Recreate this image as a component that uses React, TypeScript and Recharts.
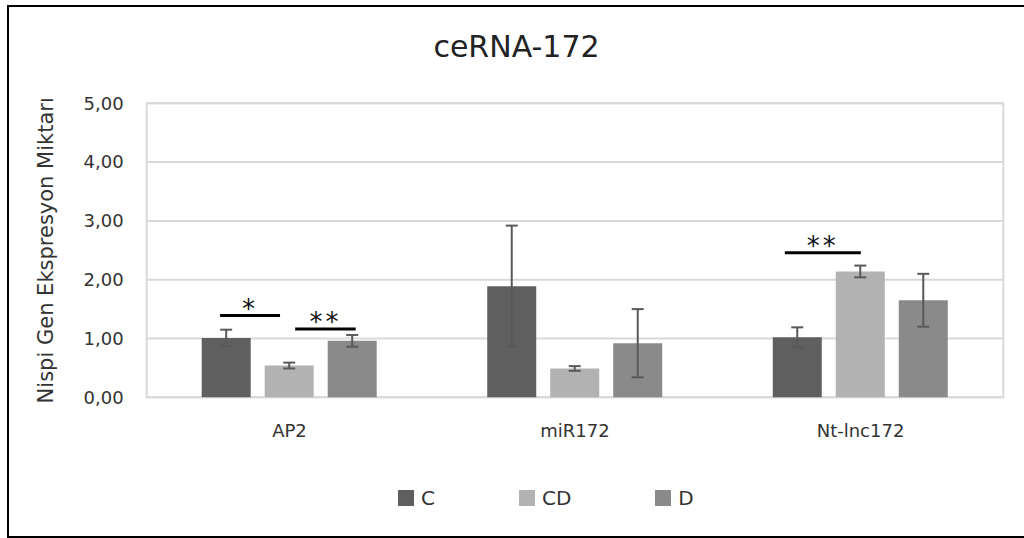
import React from 'react';
import {
  BarChart,
  Bar,
  XAxis,
  YAxis,
  CartesianGrid,
  ErrorBar,
  ReferenceLine,
  ReferenceArea,
} from 'recharts';

const categories = ['AP2', 'miR172', 'Nt-lnc172'];
const seriesNames = ['C', 'CD', 'D'];
const seriesColors = ['#5f5f5f', '#b2b2b2', '#8a8a8a'];
const valuesC = [1.01, 1.89, 1.02];
const valuesCD = [0.54, 0.49, 2.14];
const valuesD = [0.96, 0.92, 1.65];
const errorsC = [0.14, 1.03, 0.17];
const errorsCD = [0.05, 0.04, 0.1];
const errorsD = [0.1, 0.58, 0.45];
const yTicks = [0, 1, 2, 3, 4, 5];
const chartTitle = 'ceRNA-172';
const yAxisTitle = 'Nispi Gen Ekspresyon Miktarı';
// significance annotations, in category-slot units (category i spans i..i+1)
const sigX1 = [0.257, 0.52, 2.235];
const sigX2 = [0.467, 0.732, 2.501];
const sigY = [1.39, 1.16, 2.46];
const sigLabels = ['*', '**', '**'];

const valueSets = [valuesC, valuesCD, valuesD];
const errorSets = [errorsC, errorsCD, errorsD];

const data = categories.map((category, i) => {
  const row: Record<string, any> = { category, slot: i + 0.5 };
  seriesNames.forEach((s, k) => {
    row[s] = valueSets[k][i];
    row[s + '_err'] = errorSets[k][i];
  });
  return row;
});

const FONT = '"DejaVu Sans", sans-serif';
const TEXT = '#333333';

const YTitle = (props: any) => {
  const vb = props.viewBox || {};
  const x = (vb.x || 0) + 46.5;
  const y = (vb.y || 0) + (vb.height || 0) / 2;
  return (
    <text
      x={x}
      y={y}
      transform={`rotate(-90, ${x}, ${y})`}
      textAnchor="middle"
      fontFamily={FONT}
      fontSize={21}
      fill={TEXT}
    >
      {yAxisTitle}
    </text>
  );
};

export default function App() {
  return (
    <div style={{ position: 'absolute', left: 0, top: 0, width: 1024, height: 538, background: '#fff', overflow: 'hidden' }}>
      <div
        style={{
          position: 'absolute',
          left: 7,
          top: 5,
          width: 1017,
          height: 533,
          boxSizing: 'border-box',
          borderLeft: '2px solid #000',
          borderTop: '2px solid #000',
          borderBottom: '2px solid #000',
        }}
      />
      <svg style={{ position: 'absolute', left: 0, top: 0 }} width={1024} height={80}>
        <text x={516.5} y={57} textAnchor="middle" fontFamily={FONT} fontSize={30} fill="#222">
          {chartTitle}
        </text>
      </svg>
      <div style={{ position: 'absolute', left: 0, top: 0 }}>
        <BarChart
          width={1024}
          height={538}
          data={data}
          margin={{ top: 103.3, right: 20.7, left: 6.7, bottom: 100.7 }}
          barGap={14}
        >
          <CartesianGrid horizontal vertical={false} stroke="#d9d9d9" strokeWidth={2} />
          <XAxis
            dataKey="category"
            tickLine={false}
            axisLine={false}
            tickSize={0}
            tickMargin={27}
            height={40}
            interval={0}
            tick={{ fill: TEXT, fontSize: 18, fontFamily: FONT }}
          />
          <XAxis xAxisId="num" dataKey="slot" type="number" domain={[0, 3]} hide allowDataOverflow />
          <YAxis
            domain={[0, 5]}
            ticks={yTicks}
            tickFormatter={(v: number) => v.toFixed(2).replace('.', ',')}
            tickLine={false}
            axisLine={false}
            tickSize={0}
            tickMargin={23}
            width={140}
            tick={{ fill: TEXT, fontSize: 18, fontFamily: FONT }}
            label={{ content: YTitle }}
          />
          <ReferenceArea
            xAxisId="num"
            x1={0}
            x2={3}
            y1={0}
            y2={5}
            fill="none"
            fillOpacity={0}
            stroke="#d9d9d9"
            strokeWidth={2}
          />
          {seriesNames.map((s, k) => (
            <Bar key={s} dataKey={s} fill={seriesColors[k]} barSize={49} isAnimationActive={false}>
              <ErrorBar dataKey={s + '_err'} width={6} stroke="#595959" strokeWidth={2} direction="y" />
            </Bar>
          ))}
          {sigLabels.map((lab, i) => (
            <ReferenceLine
              key={i}
              xAxisId="num"
              segment={[
                { x: sigX1[i], y: sigY[i] },
                { x: sigX2[i], y: sigY[i] },
              ]}
              stroke="#000"
              strokeWidth={3}
              label={{
                value: lab,
                position: 'top',
                offset: -2,
                fill: '#111',
                fontSize: 26,
                fontFamily: FONT,
                letterSpacing: 3,
              }}
            />
          ))}
        </BarChart>
      </div>
      <div
        style={{
          position: 'absolute',
          left: 398,
          top: 486,
          height: 24,
          display: 'flex',
          alignItems: 'center',
          fontFamily: FONT,
          fontSize: 20,
          color: TEXT,
          whiteSpace: 'nowrap',
        }}
      >
        {seriesNames.map((s, k) => (
          <div key={s} style={{ display: 'flex', alignItems: 'center', marginRight: 84 }}>
            <span style={{ display: 'inline-block', width: 16, height: 16, background: seriesColors[k], marginRight: 7 }} />
            <span>{s}</span>
          </div>
        ))}
      </div>
    </div>
  );
}
